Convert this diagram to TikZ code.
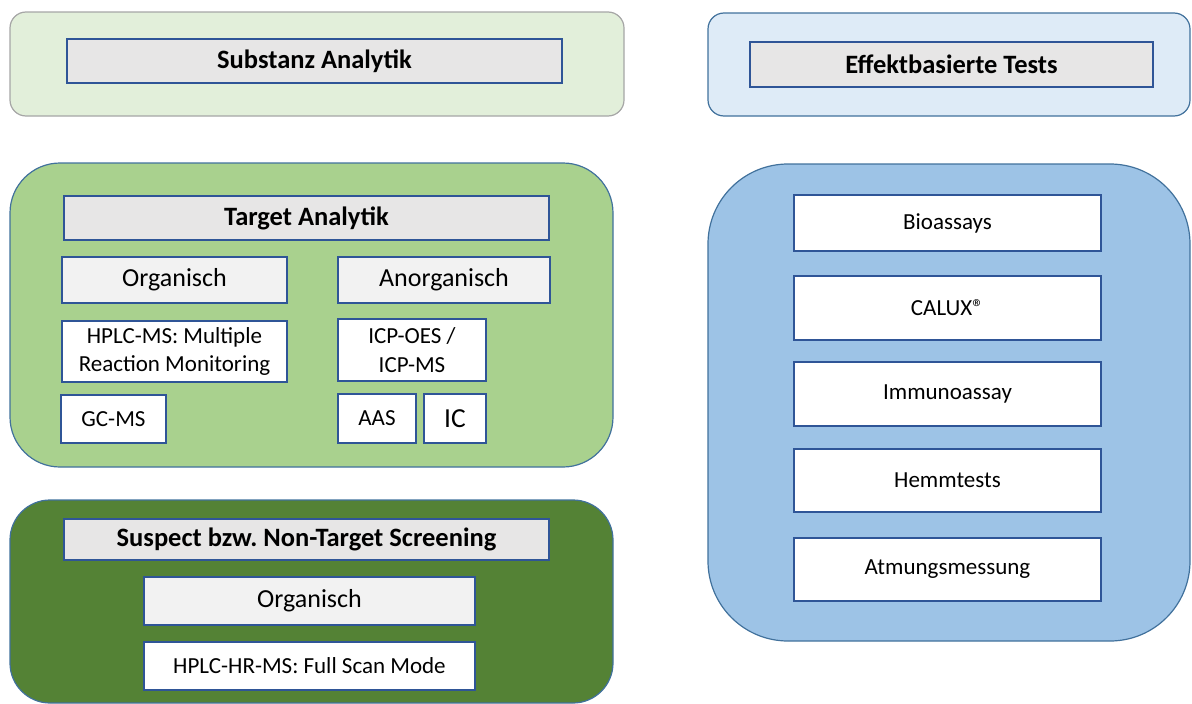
\documentclass[tikz,border=0pt]{standalone}
\usepackage{fontspec}
\setmainfont{Carlito}
\frenchspacing
\definecolor{edgeblue}{HTML}{41719C}
\definecolor{innerblue}{HTML}{2F5597}
\definecolor{edgegray}{HTML}{A6A6A6}
\definecolor{palegreen}{HTML}{E2EFDA}
\definecolor{paleblue}{HTML}{DEEBF7}
\definecolor{midgreen}{HTML}{A9D18E}
\definecolor{darkgreen}{HTML}{548235}
\definecolor{midblue}{HTML}{9DC3E6}
\definecolor{titlegray}{HTML}{E7E6E6}
\definecolor{catgray}{HTML}{F2F2F2}
\tikzset{
  panel/.style={draw=edgeblue, line width=1.2pt, inner sep=0pt},
  titlebox/.style={draw=innerblue, fill=titlegray, line width=1.4pt, inner sep=0pt,
    font=\bfseries\fontsize{26.5}{30}\selectfont},
  catbox/.style={draw=innerblue, fill=catgray, line width=1.4pt, inner sep=0pt,
    font=\fontsize{26}{30}\selectfont},
  itembox/.style={draw=innerblue, fill=white, line width=1.4pt, inner sep=0pt, align=center,
    font=\fontsize{23}{28.5}\selectfont},
}
\begin{document}
\begin{tikzpicture}[x=1pt,y=-1pt]
\useasboundingbox (0,0) rectangle (1192,704);

% --- Substanz Analytik header
\node[panel, draw=edgegray, fill=palegreen, rounded corners=16pt,
  minimum width=614pt, minimum height=104pt] (subst) at (317,64) {};
\node[titlebox, minimum width=495pt, minimum height=44pt] (substT) at (314.5,61) {Substanz Analytik};

% --- Effektbasierte Tests header
\node[panel, fill=paleblue, rounded corners=16pt,
  minimum width=482pt, minimum height=103pt] (eff) at (949,64.5) {};
\node[titlebox, minimum width=403pt, minimum height=45pt] (effT) at (951.5,64.5) {Effektbasierte Tests};

% --- Target Analytik
\node[panel, fill=midgreen, rounded corners=50pt,
  minimum width=603pt, minimum height=304pt] (target) at (311.5,315) {};
\node[titlebox, minimum width=485pt, minimum height=44pt] (targetT) at (306.5,218) {Target Analytik};
\node[catbox, minimum width=225pt, minimum height=46pt] (org) at (174.5,280) {Organisch};
\node[catbox, minimum width=212pt, minimum height=46pt] (anorg) at (444,280) {Anorganisch};
\node[itembox, minimum width=225pt, minimum height=61pt] (hplc) at (174.5,351.5) {HPLC-MS: Multiple\\Reaction Monitoring};
\node[itembox, minimum width=148pt, minimum height=62pt] (icp) at (412,350) {ICP-OES /\\ICP-MS};
\node[itembox, minimum width=105pt, minimum height=48pt] (gcms) at (113.5,419) {GC-MS};
\node[itembox, minimum width=78pt, minimum height=49pt] (aas) at (377,418.5) {AAS};
\node[itembox, minimum width=62pt, minimum height=49pt, font=\fontsize{27.5}{30}\selectfont] (ic) at (455,418.5) {IC};

% --- Suspect / Non-Target Screening
\node[panel, fill=darkgreen, rounded corners=40pt,
  minimum width=603pt, minimum height=203pt] (suspect) at (311.5,601.5) {};
\node[titlebox, minimum width=485pt, minimum height=41pt] (suspectT) at (306.5,539.5) {Suspect bzw. Non-Target Screening};
\node[catbox, minimum width=331pt, minimum height=48pt] (org2) at (309.5,601) {Organisch};
\node[itembox, minimum width=331pt, minimum height=48pt] (hrms) at (309.5,666) {HPLC-HR-MS: Full Scan Mode};

% --- Effect-based test methods
\node[panel, fill=midblue, rounded corners=80pt,
  minimum width=482pt, minimum height=477pt] (tests) at (949,402.5) {};
\node[itembox, minimum width=307pt, minimum height=56pt] (bio) at (947.5,223) {Bioassays};
\node[itembox, minimum width=307pt, minimum height=64pt] (calux) at (947.5,308) {CALUX®};
\node[itembox, minimum width=307pt, minimum height=64pt] (immuno) at (947.5,394) {Immunoassay};
\node[itembox, minimum width=307pt, minimum height=63pt] (hemm) at (947.5,480.5) {Hemmtests};
\node[itembox, minimum width=307pt, minimum height=63pt] (atmung) at (947.5,569.5) {Atmungsmessung};
\end{tikzpicture}
\end{document}
